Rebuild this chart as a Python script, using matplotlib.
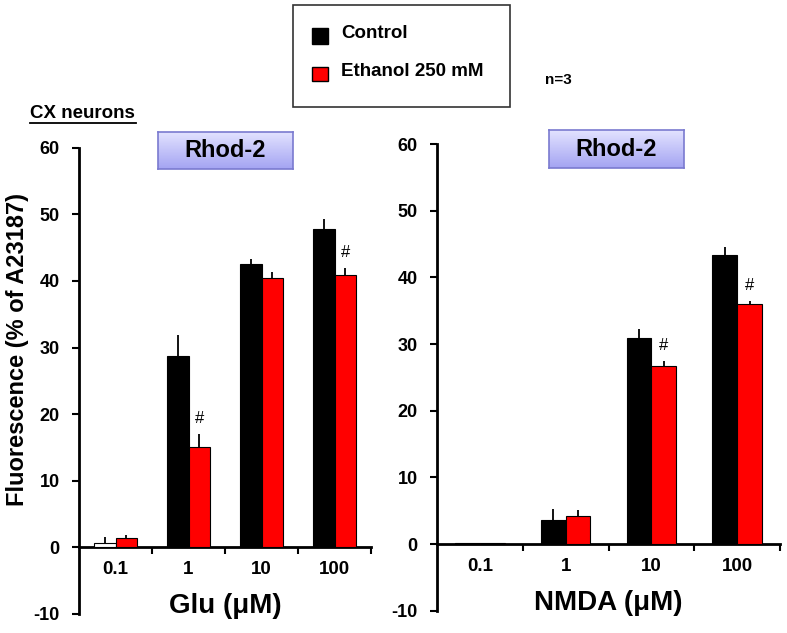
import matplotlib
matplotlib.use("Agg")
import matplotlib.pyplot as plt
import numpy as np
from matplotlib.patches import Rectangle
from matplotlib.lines import Line2D
from matplotlib.colors import LinearSegmentedColormap

plt.rcParams['font.family'] = ['Liberation Sans', 'DejaVu Sans']
plt.rcParams['font.weight'] = 'bold'

categories = ["0.1", "1", "10", "100"]
series_names = ["Control", "Ethanol 250 mM"]

glu_control = [0.6, 28.7, 42.6, 47.8]
glu_control_err = [0.9, 3.2, 0.7, 1.5]
glu_ethanol = [1.4, 15.0, 40.4, 40.9]
glu_ethanol_err = [0.4, 2.0, 1.0, 1.0]
glu_sig = ["", "#", "", "#"]

nmda_control = [0.15, 3.6, 30.9, 43.3]
nmda_control_err = [0.0, 1.6, 1.3, 1.3]
nmda_ethanol = [0.15, 4.2, 26.7, 36.0]
nmda_ethanol_err = [0.0, 0.9, 0.8, 0.4]
nmda_sig = ["", "", "#", "#"]

# first control bar at 0.1 uM Glu appears unfilled in the source
glu_control_faces = ["white", "black", "black", "black"]
nmda_control_faces = ["black", "black", "black", "black"]

W, H = 787, 633
fig = plt.figure(figsize=(W / 100, H / 100), dpi=100)

def fx(px):
    return px / W

def fy(py):
    return 1 - py / H

def panel(rect, ctrl, ctrl_err, eth, eth_err, sig, ctrl_faces, xlabel):
    ax = fig.add_axes(rect)
    x = np.arange(len(categories))
    bw = 0.29
    ax.bar(x - bw / 2, ctrl, bw, color=ctrl_faces, edgecolor="black", linewidth=0.8, zorder=3)
    ax.bar(x + bw / 2, eth, bw, color="#ff0000", edgecolor="black", linewidth=0.8, zorder=3)
    ax.errorbar(x - bw / 2, ctrl, yerr=[np.zeros(len(ctrl)), ctrl_err], fmt="none",
                ecolor="black", elinewidth=1.3, capsize=0, zorder=4)
    ax.errorbar(x + bw / 2, eth, yerr=[np.zeros(len(eth)), eth_err], fmt="none",
                ecolor="black", elinewidth=1.3, capsize=0, zorder=4)
    for i, s in enumerate(sig):
        if s:
            ax.text(x[i] + bw / 2, eth[i] + eth_err[i] + 1.2, s, ha="center", va="bottom",
                    fontsize=12, fontweight="normal")
    ax.set_xlim(-0.5, len(categories) - 0.5)
    ax.set_ylim(-10, 60)
    ax.set_yticks(np.arange(-10, 61, 10))
    ax.set_yticklabels([str(v) for v in range(-10, 61, 10)], fontsize=13, fontweight="bold")
    ax.set_xticks(np.arange(0.5, len(categories) - 0.5 + 0.01, 1.0))
    ax.set_xticklabels([])
    ax.tick_params(axis="x", direction="out", length=5, width=1.5)
    ax.tick_params(axis="y", direction="out", length=5, width=1.5, pad=9)
    ax.spines["top"].set_visible(False)
    ax.spines["right"].set_visible(False)
    ax.spines["bottom"].set_position(("data", 0))
    ax.spines["left"].set_linewidth(2)
    ax.spines["bottom"].set_linewidth(2)
    for i, c in enumerate(categories):
        ax.text(x[i], -3.3, c, ha="center", va="center", fontsize=13.5, fontweight="bold")
    ax.text(1.5, -8.8, xlabel, ha="center", va="center", fontsize=20, fontweight="bold")
    return ax

axL = panel([fx(79), fy(614), fx(371 - 79), (614 - 147.7) / H],
            glu_control, glu_control_err, glu_ethanol, glu_ethanol_err, glu_sig,
            glu_control_faces, "Glu (\u03bcM)")
axR = panel([fx(437), fy(610.7), fx(780 - 437), (610.7 - 144) / H],
            nmda_control, nmda_control_err, nmda_ethanol, nmda_ethanol_err, nmda_sig,
            nmda_control_faces, "NMDA (\u03bcM)")

fig.text(fx(18), fy(350), "Fluorescence (% of A23187)", rotation=90, ha="center", va="center",
         fontsize=17, fontweight="bold")

# CX neurons underlined
fig.text(fx(30), fy(113), "CX neurons", ha="left", va="center", fontsize=13.5, fontweight="bold")
fig.add_artist(Line2D([fx(30), fx(136)], [fy(123), fy(123)], color="black", lw=1.3))

# Rhod-2 boxes with gradient
cmap = LinearSegmentedColormap.from_list("lav", ["#e2e2ff", "#a4a4f2"])
grad = np.linspace(0, 1, 64).reshape(-1, 1)
for (x0, x1, y0, y1) in [(158, 293, 132, 169), (549, 684, 130, 168)]:
    bax = fig.add_axes([fx(x0), fy(y1), fx(x1 - x0), (y1 - y0) / H])
    bax.imshow(grad, cmap=cmap, aspect="auto", extent=[0, 1, 0, 1], origin="upper")
    bax.set_xticks([])
    bax.set_yticks([])
    for sp in bax.spines.values():
        sp.set_edgecolor("#7a7ad0")
        sp.set_linewidth(1.2)
    bax.text(0.5, 0.5, "Rhod-2", ha="center", va="center", fontsize=17, fontweight="bold",
             transform=bax.transAxes)

# Legend box
fig.add_artist(Rectangle((fx(293), fy(107)), fx(510 - 293), (107 - 5) / H,
                         transform=fig.transFigure, facecolor="white", edgecolor="#333333", lw=1.2))
for (py0, py1, col, label, ty) in [(28, 44, "black", series_names[0], 34),
                                   (67, 81, "#ff0000", series_names[1], 72)]:
    fig.add_artist(Rectangle((fx(312), fy(py1)), fx(16), (py1 - py0) / H,
                             transform=fig.transFigure, facecolor=col, edgecolor="black", lw=1))
    fig.text(fx(341), fy(ty), label, ha="left", va="center", fontsize=13.5, fontweight="bold")
fig.text(fx(545), fy(80), "n=3", ha="left", va="center", fontsize=11, fontweight="bold")

fig.savefig("out.png", dpi=100)
